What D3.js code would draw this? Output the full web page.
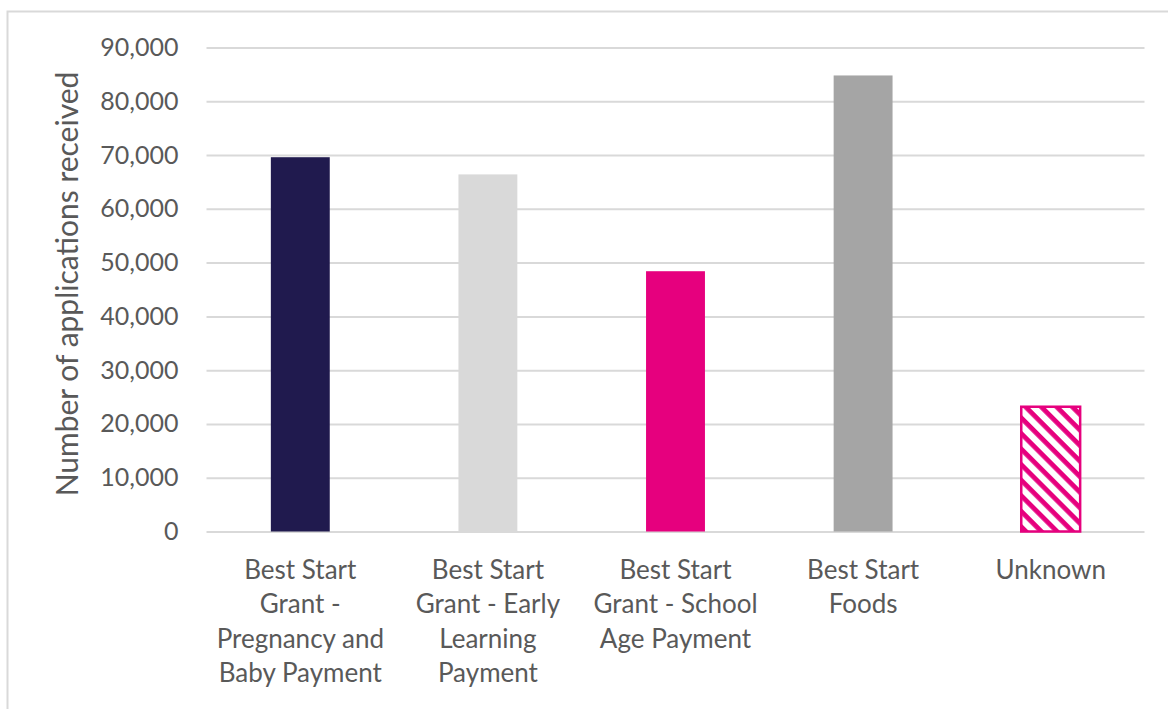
<!DOCTYPE html>
<html>
<head>
<meta charset="utf-8">
<script src="https://cdn.jsdelivr.net/npm/d3@7"></script>
<style>
  html, body { margin: 0; padding: 0; background: #fff; }
  svg { display: block; }
  text { font-family: Lato, "Open Sans", sans-serif; fill: #595959; }
</style>
</head>
<body>
<svg id="chart" width="1168" height="709"></svg>
<script>
const categories = [
  "Best Start Grant - Pregnancy and Baby Payment",
  "Best Start Grant - Early Learning Payment",
  "Best Start Grant - School Age Payment",
  "Best Start Foods",
  "Unknown"
];
const categoryLines = [
  ["Best Start", "Grant -", "Pregnancy and", "Baby Payment"],
  ["Best Start", "Grant - Early", "Learning", "Payment"],
  ["Best Start", "Grant - School", "Age Payment"],
  ["Best Start", "Foods"],
  ["Unknown"]
];
const values = [69600, 66400, 48400, 84800, 23200];
const barColors = ["#201A4E", "#D9D9D9", "#E6007E", "#A5A5A5", "url(#hatch)"];
const yTicks = [0, 10000, 20000, 30000, 40000, 50000, 60000, 70000, 80000, 90000];
const yTitle = "Number of applications received";

const svg = d3.select("#chart");

// hatch pattern for "Unknown"
const defs = svg.append("defs");
const pat = defs.append("pattern")
  .attr("id", "hatch")
  .attr("patternUnits", "userSpaceOnUse")
  .attr("width", 11).attr("height", 11)
  .attr("patternTransform", "rotate(45)");
pat.append("rect").attr("width", 11).attr("height", 11).attr("fill", "#fff");
pat.append("rect").attr("x", 0).attr("y", 0).attr("width", 11).attr("height", 4.8).attr("fill", "#E6007E");

// outer border
svg.append("path")
  .attr("d", "M7.5,709 V11.5 H1168")
  .attr("fill", "none").attr("stroke", "#D9D9D9").attr("stroke-width", 2);

const pLeft = 206.5, pRight = 1144.5, pTop = 47.5, pBottom = 531.5;

const x = d3.scaleBand().domain(categories).range([pLeft, pRight])
  .paddingInner(0.686).paddingOuter(0.343);
const y = d3.scaleLinear().domain([0, 90000]).range([pBottom, pTop]);

// gridlines + y labels
const yAxis = svg.append("g").attr("transform", `translate(${pLeft},0)`)
  .call(d3.axisLeft(y).tickValues(yTicks).tickFormat(d3.format(",")).tickSize(-(pRight - pLeft)).tickPadding(28));
yAxis.select(".domain").remove();
yAxis.selectAll(".tick line").attr("stroke", "#D9D9D9").attr("stroke-width", 2);
yAxis.selectAll(".tick text").attr("font-size", 25).attr("fill", "#595959")
  .style("font-family", "Lato, 'Open Sans', sans-serif");

// bars
svg.append("g").selectAll("rect").data(categories).join("rect")
  .attr("x", d => x(d))
  .attr("y", (d, i) => y(values[i]))
  .attr("width", x.bandwidth())
  .attr("height", (d, i) => y(0) - y(values[i]))
  .attr("fill", (d, i) => barColors[i])
  .attr("stroke", (d, i) => i === 4 ? "#E6007E" : "none")
  .attr("stroke-width", (d, i) => i === 4 ? 2.5 : 0);

// x labels
const xAxis = svg.append("g").attr("transform", `translate(0,${pBottom})`)
  .call(d3.axisBottom(x).tickSize(0).tickFormat(""));
xAxis.select(".domain").remove();
xAxis.selectAll(".tick").each(function(d, i) {
  const t = d3.select(this).append("text")
    .attr("text-anchor", "middle")
    .attr("font-size", 26)
    .attr("fill", "#595959");
  categoryLines[i].forEach((ln, j) => {
    t.append("tspan").attr("x", 0).attr("y", 47 + j * 34.5).text(ln);
  });
});

// y title
svg.append("text")
  .attr("transform", "translate(78,284) rotate(-90)")
  .attr("text-anchor", "middle")
  .attr("font-size", 30)
  .text(yTitle);
</script>
</body>
</html>
